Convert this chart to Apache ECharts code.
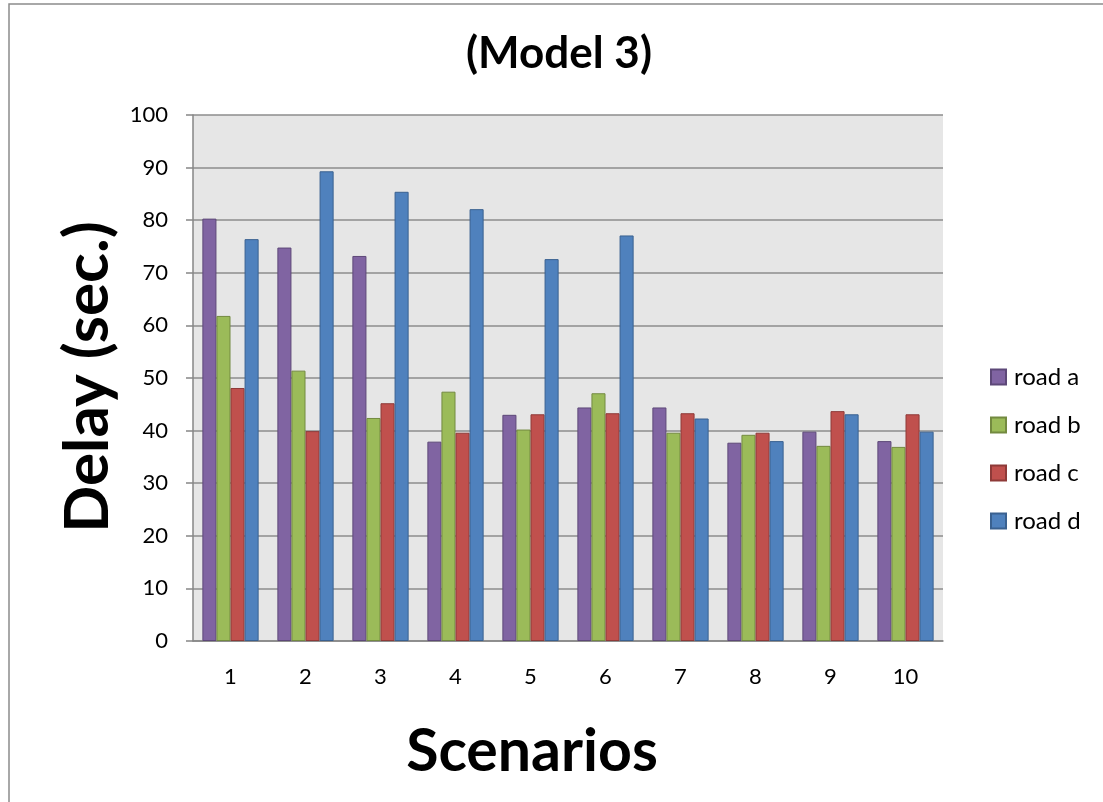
<!DOCTYPE html>
<html>
<head>
<meta charset="utf-8">
<title>(Model 3)</title>
<script src="https://cdn.jsdelivr.net/npm/echarts@6/dist/echarts.min.js"></script>
<style>
  html, body { margin: 0; padding: 0; background: #ffffff; }
  #chart { width: 1103px; height: 802px; }
</style>
</head>
<body>
<div id="chart"></div>
<script>
// Scenario numbers along the x axis
const scenarios = ['1', '2', '3', '4', '5', '6', '7', '8', '9', '10'];

// Average delay per road (seconds)
const roadA = [80.3, 74.8, 73.2, 37.9, 43.0, 44.4, 44.4, 37.7, 39.8, 38.0];
const roadB = [61.8, 51.4, 42.4, 47.4, 40.2, 47.1, 39.6, 39.2, 37.1, 36.9];
const roadC = [48.1, 39.9, 45.2, 39.6, 43.1, 43.3, 43.3, 39.6, 43.7, 43.1];
const roadD = [76.4, 89.3, 85.4, 82.1, 72.6, 77.1, 42.3, 38.0, 43.1, 39.8];

const seriesNames = ['road a', 'road b', 'road c', 'road d'];
const seriesData = [roadA, roadB, roadC, roadD];
const fills = ['#8064A2', '#9BBB59', '#C0504D', '#4F81BD'];
const edges = ['#5d4878', '#738a40', '#8e3a38', '#3a6190'];

const FONT = 'Lato, "Open Sans", sans-serif';

const chart = echarts.init(document.getElementById('chart'));

chart.setOption({
  backgroundColor: '#ffffff',
  animation: false,
  title: {
    text: '(Model 3)',
    left: 554,
    top: 27,
    textAlign: 'center',
    textStyle: { fontFamily: FONT, fontWeight: 'bold', fontSize: 44, color: '#000' }
  },
  legend: {
    orient: 'vertical',
    left: 985,
    top: 360,
    itemWidth: 15,
    itemHeight: 15,
    itemGap: 24,
    icon: 'rect',
    data: seriesNames,
    textStyle: { fontFamily: FONT, fontSize: 24, color: '#000', padding: [0, 0, 0, 3] }
  },
  grid: {
    left: 193,
    right: 160,
    top: 115,
    bottom: 161,
    show: true,
    backgroundColor: '#e6e6e6',
    borderWidth: 0
  },
  xAxis: {
    type: 'category',
    data: scenarios,
    axisLine: { lineStyle: { color: '#868686', width: 1.5 } },
    axisTick: { show: false },
    axisLabel: { fontFamily: FONT, fontSize: 22, color: '#000', margin: 25 }
  },
  yAxis: {
    type: 'value',
    min: 0,
    max: 100,
    interval: 10,
    axisLine: { show: true, lineStyle: { color: '#868686', width: 1.5 } },
    axisTick: { show: true, inside: false, length: 7, lineStyle: { color: '#868686', width: 1.5 } },
    splitLine: { lineStyle: { color: '#8c8c8c', width: 1.5 } },
    axisLabel: { fontFamily: FONT, fontSize: 22, color: '#000', margin: 25 }
  },
  graphic: [
    {
      type: 'rect',
      silent: true,
      z: -10,
      shape: { x: 9, y: 4, width: 1300, height: 1000 },
      style: { fill: 'none', stroke: '#8c8c8c', lineWidth: 1.5 }
    },
    {
      type: 'text',
      x: 88,
      y: 377,
      rotation: Math.PI / 2,
      style: {
        text: 'Delay (sec.)',
        font: 'bold 62px ' + FONT,
        fill: '#000',
        textAlign: 'center',
        textVerticalAlign: 'middle'
      }
    },
    {
      type: 'text',
      x: 532,
      y: 752,
      style: {
        text: 'Scenarios',
        font: 'bold 59px ' + FONT,
        fill: '#000',
        textAlign: 'center',
        textVerticalAlign: 'middle'
      }
    }
  ],
  series: seriesNames.map((name, i) => ({
    name: name,
    type: 'bar',
    data: seriesData[i],
    barGap: '0%',
    barCategoryGap: '25%',
    itemStyle: { color: fills[i], borderColor: edges[i], borderWidth: 1 }
  }))
});
</script>
</body>
</html>
